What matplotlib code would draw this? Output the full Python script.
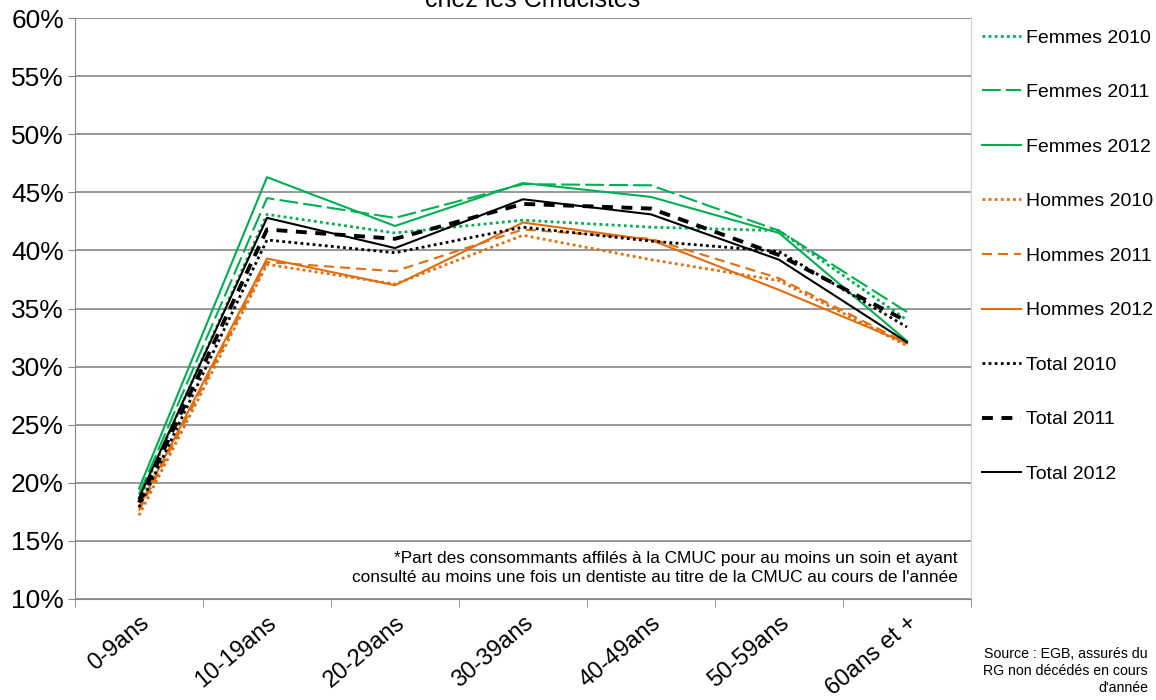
import numpy as np
import matplotlib.pyplot as plt
import matplotlib.transforms as mtransforms
from matplotlib.ticker import FixedLocator, PercentFormatter

plt.rcParams['font.family'] = ['Liberation Sans', 'DejaVu Sans']

categories = ["0-9ans", "10-19ans", "20-29ans", "30-39ans", "40-49ans", "50-59ans", "60ans et +"]

femmes_2010 = [18.5, 43.1, 41.5, 42.6, 42.0, 41.7, 34.0]
femmes_2011 = [19.0, 44.5, 42.8, 45.7, 45.6, 41.7, 34.7]
femmes_2012 = [19.5, 46.3, 42.1, 45.8, 44.6, 41.5, 32.2]
hommes_2010 = [17.2, 38.8, 37.1, 41.3, 39.2, 37.4, 31.8]
hommes_2011 = [17.6, 39.0, 38.2, 41.8, 41.0, 37.6, 32.0]
hommes_2012 = [17.9, 39.3, 37.0, 42.4, 40.9, 36.6, 32.0]
total_2010 = [17.9, 40.9, 39.8, 42.0, 40.8, 39.9, 33.4]
total_2011 = [18.3, 41.8, 41.0, 44.0, 43.6, 39.6, 33.9]
total_2012 = [18.7, 42.8, 40.2, 44.4, 43.1, 39.2, 32.1]

green = "#00B050"
orange = "#E46C0A"
black = "#000000"

dot = (0, (1, 1.2))
series = [
    ("Femmes 2010", femmes_2010, green, dot, 2.0),
    ("Femmes 2011", femmes_2011, green, (0, (9, 2.5)), 1.5),
    ("Femmes 2012", femmes_2012, green, "-", 1.5),
    ("Hommes 2010", hommes_2010, orange, dot, 2.0),
    ("Hommes 2011", hommes_2011, orange, (0, (4.8, 2.9)), 1.5),
    ("Hommes 2012", hommes_2012, orange, "-", 1.5),
    ("Total 2010", total_2010, black, dot, 2.0),
    ("Total 2011", total_2011, black, (0, (2.8, 2.2)), 2.8),
    ("Total 2012", total_2012, black, "-", 1.5),
]

fig = plt.figure(figsize=(11.56, 7), dpi=100)
ax = fig.add_axes([75 / 1156, 1 - 599 / 700, (971 - 75) / 1156, (599 - 18) / 700])

x = np.arange(len(categories))
for name, vals, col, ls, lw in series:
    ax.plot(x, vals, color=col, linestyle=ls, linewidth=lw, label=name)

ax.set_xlim(-0.5, len(categories) - 0.5)
ax.set_ylim(10, 60)
ax.set_yticks(np.arange(10, 61, 5))
ax.yaxis.set_major_formatter(PercentFormatter(decimals=0))
ax.grid(axis="y", color="#868686", linewidth=1.2)
ax.set_axisbelow(True)

ax.set_xticks(x)
ax.set_xticklabels(categories, rotation=40, ha="right", rotation_mode="anchor", fontsize=17)
shift = mtransforms.ScaledTranslation(20 / 100, 0, fig.dpi_scale_trans)
for lab in ax.get_xticklabels():
    lab.set_transform(lab.get_transform() + shift)
ax.xaxis.set_minor_locator(FixedLocator(np.arange(-0.5, len(categories), 1)))
ax.tick_params(axis="x", which="major", length=0, pad=9)
ax.tick_params(axis="x", which="minor", length=6, color="#868686", direction="out")
ax.tick_params(axis="y", length=5, color="#868686", labelsize=19, pad=3)

ax.spines["top"].set_visible(False)
ax.spines["left"].set_color("#868686")
ax.spines["bottom"].set_color("#868686")
ax.spines["right"].set_color("#D0D0D0")

fig.text(0.461, 1 - 7 / 700, "chez les Cmucistes", ha="center", va="baseline", fontsize=18)

ax.text(0.985, 0.053, "*Part des consommants affilés à la CMUC pour au moins un soin et ayant\n"
        "consulté au moins une fois un dentiste au titre de la CMUC au cours de l'année",
        transform=ax.transAxes, ha="right", va="center", fontsize=12.4, linespacing=1.35)

fig.text(0.993, 1 - 671 / 700, "Source : EGB, assurés du\nRG non décédés en cours\nd'année",
         ha="right", va="center", fontsize=10.2, linespacing=1.3)

fig.legend(loc="upper left", bbox_to_anchor=(982 / 1156, 1 - 29 / 700), frameon=False,
           fontsize=14, handlelength=2.0, handletextpad=0.25, labelspacing=1.9,
           borderaxespad=0, borderpad=0)

fig.savefig("out.png", dpi=100)
